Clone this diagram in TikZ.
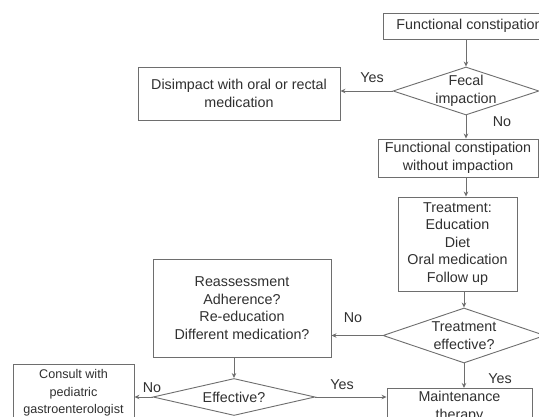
\documentclass[tikz,border=0pt]{standalone}
\usepackage{fontspec}
\setmainfont{Liberation Sans}
\usetikzlibrary{arrows.meta,shapes.geometric}
\definecolor{ln}{HTML}{6E6E6E}
\definecolor{tx}{HTML}{303030}
\begin{document}
\begin{tikzpicture}[x=1pt,y=-1pt,
  every node/.style={text=tx, font=\fontsize{14.3}{17.5}\selectfont},
  box/.style={draw=ln, line width=0.9pt, rectangle, align=center, inner sep=2pt},
  dia/.style={draw=ln, line width=0.9pt, diamond, inner sep=0pt},
  txt/.style={align=center, inner sep=0pt},
  lab/.style={inner sep=0pt},
  arr/.style={draw=ln, line width=0.9pt, -{Stealth[length=5pt,width=4.5pt]}},
]
\useasboundingbox (0,0) rectangle (539,417);
\clip (0,0) rectangle (539,417);
\fill[white] (0,0) rectangle (539,417);

\node[box, minimum width=173, minimum height=26] (b1) at (469.5,26) {Functional constipation};
\node[dia, minimum width=146, minimum height=48] (fecal) at (466,91) {};
\node[txt] (fecalt) at (fecal.center) {Fecal\\impaction};
\node[box, minimum width=202, minimum height=53] (dis) at (239,93.5) {Disimpact with oral or rectal\\medication};
\node[box, minimum width=160, minimum height=38] (b2) at (458,158) {Functional constipation\\without impaction};
\node[box, minimum width=119, minimum height=94] (b3) at (457.5,244) {Treatment:\\Education\\Diet\\Oral medication\\Follow up};
\node[dia, minimum width=162, minimum height=55] (treat) at (464,335.5) {};
\node[txt] (treatt) at (treat.center) {Treatment\\effective?};
\node[box, minimum width=178, minimum height=98] (re) at (242,308) {Reassessment\\Adherence?\\Re-education\\Different medication?};
\node[dia, minimum width=162, minimum height=37] (eff) at (234,397) {};
\node[txt] (efft) at (eff.center) {Effective?};
\node[box, anchor=north, minimum width=121, inner ysep=5pt, font=\fontsize{12.6}{17.5}\selectfont] (con) at (73.5,364) {Consult with\\pediatric\\gastroenterologist};
\node[box, anchor=north, minimum width=145, inner ysep=3pt] (mt) at (459.5,388) {Maintenance\\therapy};

\node[lab] (l1) at (372,78) {Yes};
\node[lab] (l2) at (502,122) {No};
\node[lab] (l3) at (353,318) {No};
\node[lab] (l4) at (500,379) {Yes};
\node[lab] (l5) at (152,388) {No};
\node[lab] (l6) at (342,385) {Yes};

\draw[arr] (b1.south -| fecal.north) -- (fecal.north);
\draw[arr] (fecal.west) -- (fecal.west -| dis.east);
\draw[arr] (fecal.south) -- (fecal.south |- b2.north);
\draw[arr] (fecal.south |- b2.south) -- (fecal.south |- b3.north);
\draw[arr] (treat.north |- b3.south) -- (treat.north);
\draw[arr] (treat.west) -- (treat.west -| re.east);
\draw[arr] (treat.south) -- (treat.south |- mt.north);
\draw[arr] (eff.north |- re.south) -- (eff.north);
\draw[arr] (eff.west) -- (eff.west -| con.east);
\draw[arr] (eff.east) -- (eff.east -| mt.west);
\end{tikzpicture}
\end{document}
